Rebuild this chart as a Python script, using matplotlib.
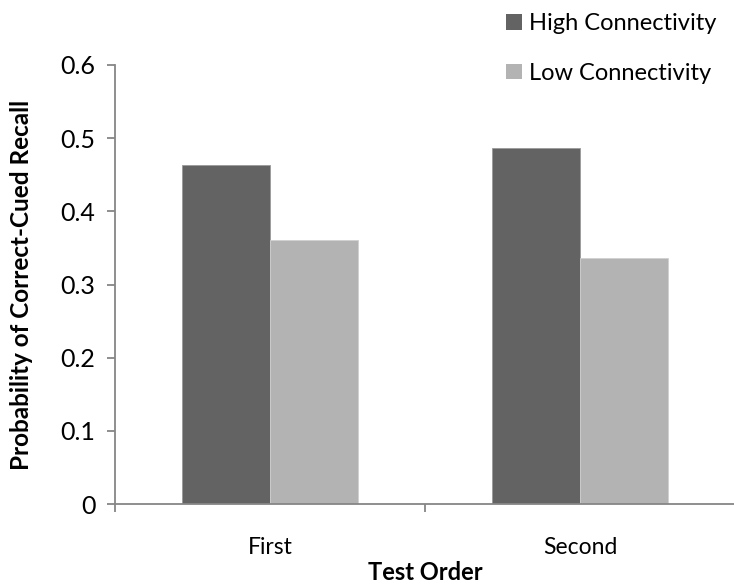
import numpy as np
import matplotlib
matplotlib.use("Agg")
import matplotlib.pyplot as plt
from matplotlib.patches import Patch

# data
categories = ["First", "Second"]
high_conn = [0.464, 0.486]
low_conn = [0.361, 0.336]
series_labels = ["High Connectivity", "Low Connectivity"]
yticks = [0, 0.1, 0.2, 0.3, 0.4, 0.5, 0.6]
ytick_labels = ["0", "0.1", "0.2", "0.3", "0.4", "0.5", "0.6"]

dark = "#636363"
light = "#b3b3b3"
axis_col = "#868686"

plt.rcParams["font.family"] = ["Lato", "DejaVu Sans"]

W, H = 734, 586
fig = plt.figure(figsize=(W / 100, H / 100), dpi=100)
ax = fig.add_axes([115 / W, (H - 504) / H, 620 / W, (504 - 65) / H])

x = np.arange(len(categories)) + 0.5
bw = 0.285
ax.bar(x - bw / 2, high_conn, bw, color=dark, edgecolor="#9a9a9a", linewidth=0.6)
ax.bar(x + bw / 2, low_conn, bw, color=light, edgecolor="#d0d0d0", linewidth=0.6)

ax.set_xlim(0, 2)
ax.set_ylim(0, 0.6)
ax.set_yticks(yticks)
ax.set_yticklabels(ytick_labels, fontsize=18)
ax.set_xticks([0, 1, 2])
ax.set_xticklabels([])
ax.set_xticks(x, minor=True)
ax.set_xticklabels(categories, minor=True, fontsize=16.5)
ax.tick_params(axis="x", which="minor", length=0, pad=24)
ax.tick_params(axis="x", which="major", length=6, color=axis_col, width=1.3)
ax.tick_params(axis="y", length=6, color=axis_col, width=1.3, pad=8)

for s in ["top", "right"]:
    ax.spines[s].set_visible(False)
for s in ["left", "bottom"]:
    ax.spines[s].set_color(axis_col)
    ax.spines[s].set_linewidth(1.3)

# axis titles placed in figure pixels
fig.text(425 / W, 1 - 573 / H, "Test Order", fontsize=17, fontweight="bold",
         ha="center", va="center")
fig.text(22 / W, 1 - 285 / H, "Probability of Correct-Cued Recall", fontsize=17.5,
         fontweight="bold", rotation=90, ha="center", va="center")

handles = [Patch(facecolor=dark), Patch(facecolor=light)]
fig.legend(handles, series_labels, loc="upper left",
           bbox_to_anchor=(497 / W, 1 - 4 / H), frameon=False, fontsize=17,
           handlelength=0.65, handleheight=0.65, handletextpad=0.3,
           labelspacing=1.2, borderaxespad=0)

fig.savefig("out.png", dpi=100)
